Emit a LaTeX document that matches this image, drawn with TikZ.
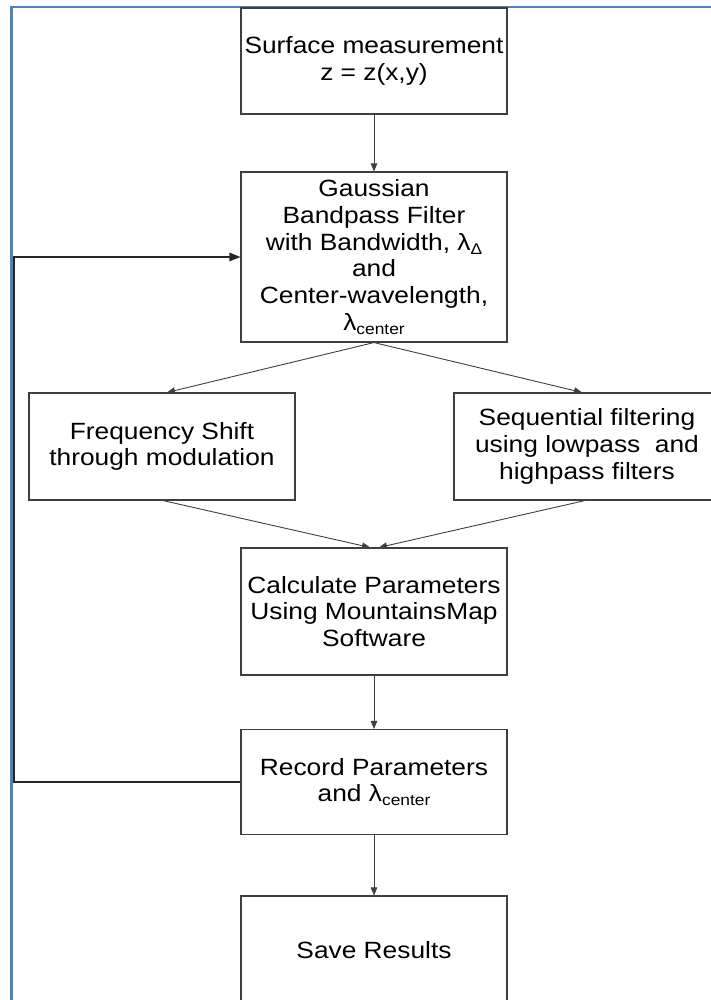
\documentclass[tikz,border=0pt]{standalone}
\usepackage{fontspec}
\setmainfont{Liberation Sans}[FakeStretch=1.12]
\usetikzlibrary{arrows.meta}
\definecolor{frameblue}{HTML}{4F81BD}
\definecolor{boxline}{HTML}{3F3F3F}
\newcommand{\lsub}[1]{\raisebox{-0.17em}{\fontsize{15.5}{16}\selectfont #1}}
\begin{document}
\begin{tikzpicture}[x=1pt,y=-1pt,
  box/.style={draw=boxline, line width=1.1pt, minimum width=266pt, inner sep=0pt,
    align=center, font=\fontsize{23.5}{26.7}\selectfont, text=black},
  arr/.style={draw=boxline, line width=0.9pt, -{Triangle[length=8pt,width=6.5pt]}},
  fb/.style={draw=black!85, line width=1.4pt, -{Triangle[length=11pt,width=8.5pt]}},
  frame/.style={draw=frameblue, line width=2.6pt}]
\useasboundingbox (0,0) rectangle (711,1000);
\clip (0,0) rectangle (711,1000);
\fill[white] (0,0) rectangle (711,1000);
\draw[frame] (11.5,1010) -- (11.5,7) -- (720,7);

\node[box, minimum height=106pt] (surf) at (374,61) {Surface measurement\\z = z(x,y)};
\node[box, minimum height=170pt] (gauss) at (374,257) {Gaussian\\Bandpass Filter\\with Bandwidth, λ\lsub{Δ}\\and\\Center-wavelength,\\λ\lsub{center}};
\node[box, minimum height=107pt] (freq) at (162,446.5) {Frequency Shift\\through modulation};
\node[box, minimum height=107pt] (seq) at (587,446.5) {Sequential filtering\\using lowpass\ \ and\\highpass filters};
\node[box, minimum height=127pt] (calc) at (374,611.5) {Calculate Parameters\\Using MountainsMap\\Software};
\node[box, minimum height=105pt] (rec) at (374,782) {Record Parameters\\and λ\lsub{center}};
\node[box, minimum height=108pt] (save) at (374,950) {Save Results};

\draw[arr] (surf.south) -- (gauss.north);
\draw[arr] (gauss.south) -- ([xshift=5pt]freq.north);
\draw[arr] (gauss.south) -- ([xshift=-5pt]seq.north);
\draw[arr] ([xshift=1pt]freq.south) -- ([xshift=-4pt]calc.north);
\draw[arr] ([xshift=-2pt]seq.south) -- ([xshift=5pt]calc.north);
\draw[arr] (calc.south) -- (rec.north);
\draw[arr] (rec.south) -- (save.north);

\coordinate (lb) at (14,782);
\coordinate (lt) at (14,257);
\draw[fb] (rec.west) -- (lb) -- (lt) -- (gauss.west);
\end{tikzpicture}
\end{document}
